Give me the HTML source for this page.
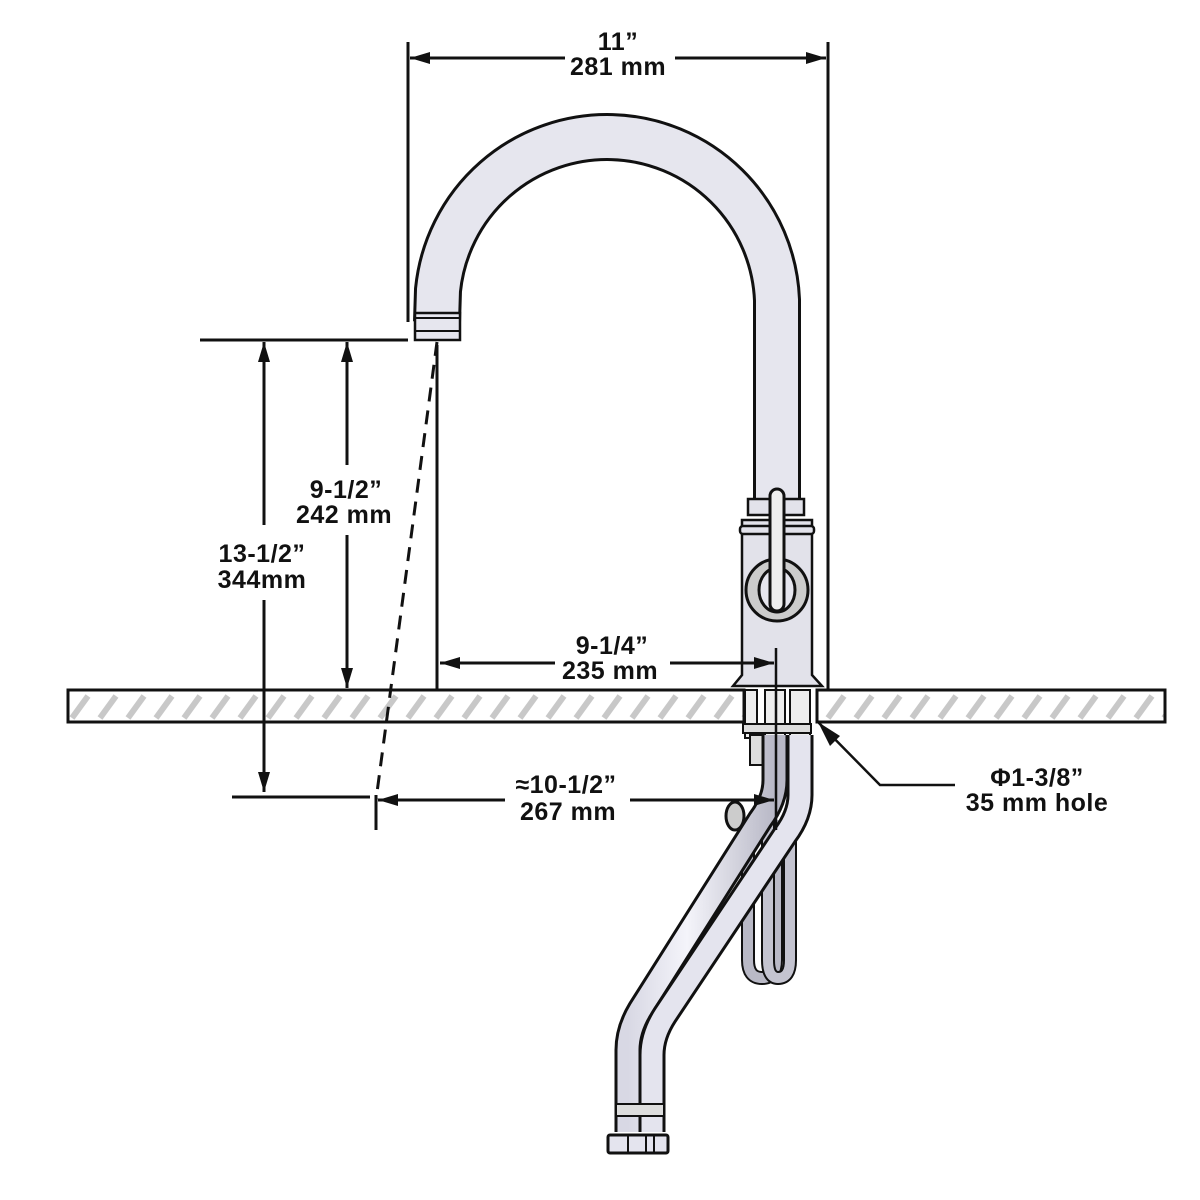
<!DOCTYPE html>
<html><head><meta charset="utf-8"><style>
html,body{margin:0;padding:0;background:#fff;width:1200px;height:1200px;overflow:hidden}
text{font-family:"Liberation Sans",sans-serif;font-weight:bold;font-size:25px;fill:#111;text-anchor:middle;letter-spacing:0.5px}
</style></head><body>
<svg width="1200" height="1200" viewBox="0 0 1200 1200" xmlns="http://www.w3.org/2000/svg">
<defs>
<pattern id="h" width="28" height="32" patternUnits="userSpaceOnUse" patternTransform="translate(68,690)">
<rect width="28" height="32" fill="#fff"/>
<path d="M4,28 L20,6" stroke="#c8c8c8" stroke-width="6"/>
</pattern>
<linearGradient id="g" x1="0" x2="1"><stop offset="0" stop-color="#d8d8e4"/><stop offset="0.4" stop-color="#f4f4fa"/><stop offset="1" stop-color="#b8b8c6"/></linearGradient>
<marker id="a" viewBox="0 0 20 12" refX="20" refY="6" markerWidth="20" markerHeight="12" markerUnits="userSpaceOnUse" orient="auto-start-reverse"><path d="M0,0 L20,6 L0,12z" fill="#111"/></marker>
</defs>

<!-- countertop -->
<rect x="68" y="690" width="676" height="32" fill="url(#h)" stroke="#111" stroke-width="3"/>
<rect x="817" y="690" width="348" height="32" fill="url(#h)" stroke="#111" stroke-width="3"/>

<!-- pull-down hose loop -->
<path d="M748,820 L748,960 Q748,978 762,978 Q776,978 776,960 L776,820" fill="none" stroke="#111" stroke-width="14"/>
<path d="M748,820 L748,960 Q748,978 762,978 Q776,978 776,960 L776,820" fill="none" stroke="#b9b9c6" stroke-width="10"/>
<path d="M768,820 L768,960 Q768,978 778,978 Q790,978 790,960 L790,820" fill="none" stroke="#111" stroke-width="14"/>
<path d="M768,820 L768,960 Q768,978 778,978 Q790,978 790,960 L790,820" fill="none" stroke="#c4c4d0" stroke-width="10"/>
<ellipse cx="735" cy="816" rx="9" ry="14" fill="#ccc" stroke="#111" stroke-width="3"/>

<!-- shanks -->
<rect x="745" y="690" width="12" height="48" fill="#eee" stroke="#111" stroke-width="2"/>
<rect x="765" y="690" width="20" height="48" fill="#eee" stroke="#111" stroke-width="2"/>
<rect x="790" y="690" width="20" height="48" fill="#eee" stroke="#111" stroke-width="2"/>
<rect x="743" y="724" width="68" height="9" fill="#ddd" stroke="#111" stroke-width="2"/>
<rect x="750" y="735" width="14" height="30" fill="#ddd" stroke="#111" stroke-width="2"/>

<!-- supply hoses -->
<path d="M775,735 L775,780 Q775,800 760,820 L640,1010 Q628,1030 628,1050 L628,1132" fill="none" stroke="#111" stroke-width="27"/>
<path d="M775,735 L775,780 Q775,800 760,820 L640,1010 Q628,1030 628,1050 L628,1132" fill="none" stroke="url(#g)" stroke-width="21"/>
<path d="M800,735 L800,795 Q800,815 785,835 L665,1015 Q652,1035 652,1055 L652,1132" fill="none" stroke="#111" stroke-width="27"/>
<path d="M800,735 L800,795 Q800,815 785,835 L665,1015 Q652,1035 652,1055 L652,1132" fill="none" stroke="#e4e4ee" stroke-width="21"/>
<rect x="616" y="1104" width="48" height="12" fill="#ddd" stroke="#111" stroke-width="2"/>
<rect x="608" y="1135" width="60" height="18" rx="2" fill="#e4e4ee" stroke="#111" stroke-width="3"/>
<path d="M628,1135V1153M646,1135V1153M654,1135V1153" stroke="#111" stroke-width="2"/>

<!-- gooseneck spout -->
<path d="M437,322 L438,290 A170,170 0 0 1 777,300 L777,505" fill="none" stroke="#111" stroke-width="48"/>
<path d="M437,322 L438,290 A170,170 0 0 1 777,300 L777,505" fill="none" stroke="#e6e6ee" stroke-width="42"/>
<rect x="415" y="313" width="45" height="27" fill="#e6e6ee" stroke="#111" stroke-width="2.5"/>
<path d="M415,318H460M415,331H460" stroke="#111" stroke-width="2"/>

<!-- body -->
<path d="M742,520 L742,675 L733,686 L822,686 L812,675 L812,520 Z" fill="#e2e2ea" stroke="#111" stroke-width="2.5"/>
<rect x="748" y="499" width="56" height="16" fill="#e2e2ea" stroke="#111" stroke-width="2.5"/>
<rect x="740" y="526" width="74" height="8" rx="3" fill="#e2e2ea" stroke="#111" stroke-width="2.5"/>
<circle cx="777" cy="590" r="31" fill="#ccc" stroke="#111" stroke-width="3"/>
<ellipse cx="777" cy="590" rx="18" ry="22" fill="#e6e6ee" stroke="#111" stroke-width="3"/>
<rect x="770" y="489" width="14" height="122" rx="7" fill="#eee" stroke="#111" stroke-width="3"/>

<!-- dimension lines -->
<g stroke="#111" stroke-width="3" fill="none">
<path d="M408,42V322M828,42V690"/>
<path d="M200,340H408M232,797H370"/>
<path d="M437,345V690"/>
<path d="M376,795V830"/>
<path d="M776,648V830" stroke-width="2.5"/>
<path d="M437,342L376,800" stroke-dasharray="14,9"/>
<path d="M818,722 L880,785 H955" stroke-width="2.5"/>
<path d="M410,58H565M675,58H826" marker-start="url(#a)" marker-end="url(#a)"/>
<path d="M264,342V525M264,600V792" marker-start="url(#a)" marker-end="url(#a)"/>
<path d="M347,342V465M347,535V688" marker-start="url(#a)" marker-end="url(#a)"/>
<path d="M440,663H555M670,663H774" marker-start="url(#a)" marker-end="url(#a)"/>
<path d="M378,800H505M630,800H774" marker-start="url(#a)" marker-end="url(#a)"/>
</g>
<path d="M818,722 L840,736 L830,746Z" fill="#111"/>

<text x="618" y="50">11”</text>
<text x="618" y="75">281 mm</text>
<text x="346" y="498">9-1/2”</text>
<text x="344" y="523">242 mm</text>
<text x="262" y="562">13-1/2”</text>
<text x="262" y="588">344mm</text>
<text x="612" y="654">9-1/4”</text>
<text x="610" y="679">235 mm</text>
<text x="566" y="793">≈10-1/2”</text>
<text x="568" y="820">267 mm</text>
<text x="1037" y="786">Φ1-3/8”</text>
<text x="1037" y="811">35 mm hole</text>
</svg>
</body></html>
